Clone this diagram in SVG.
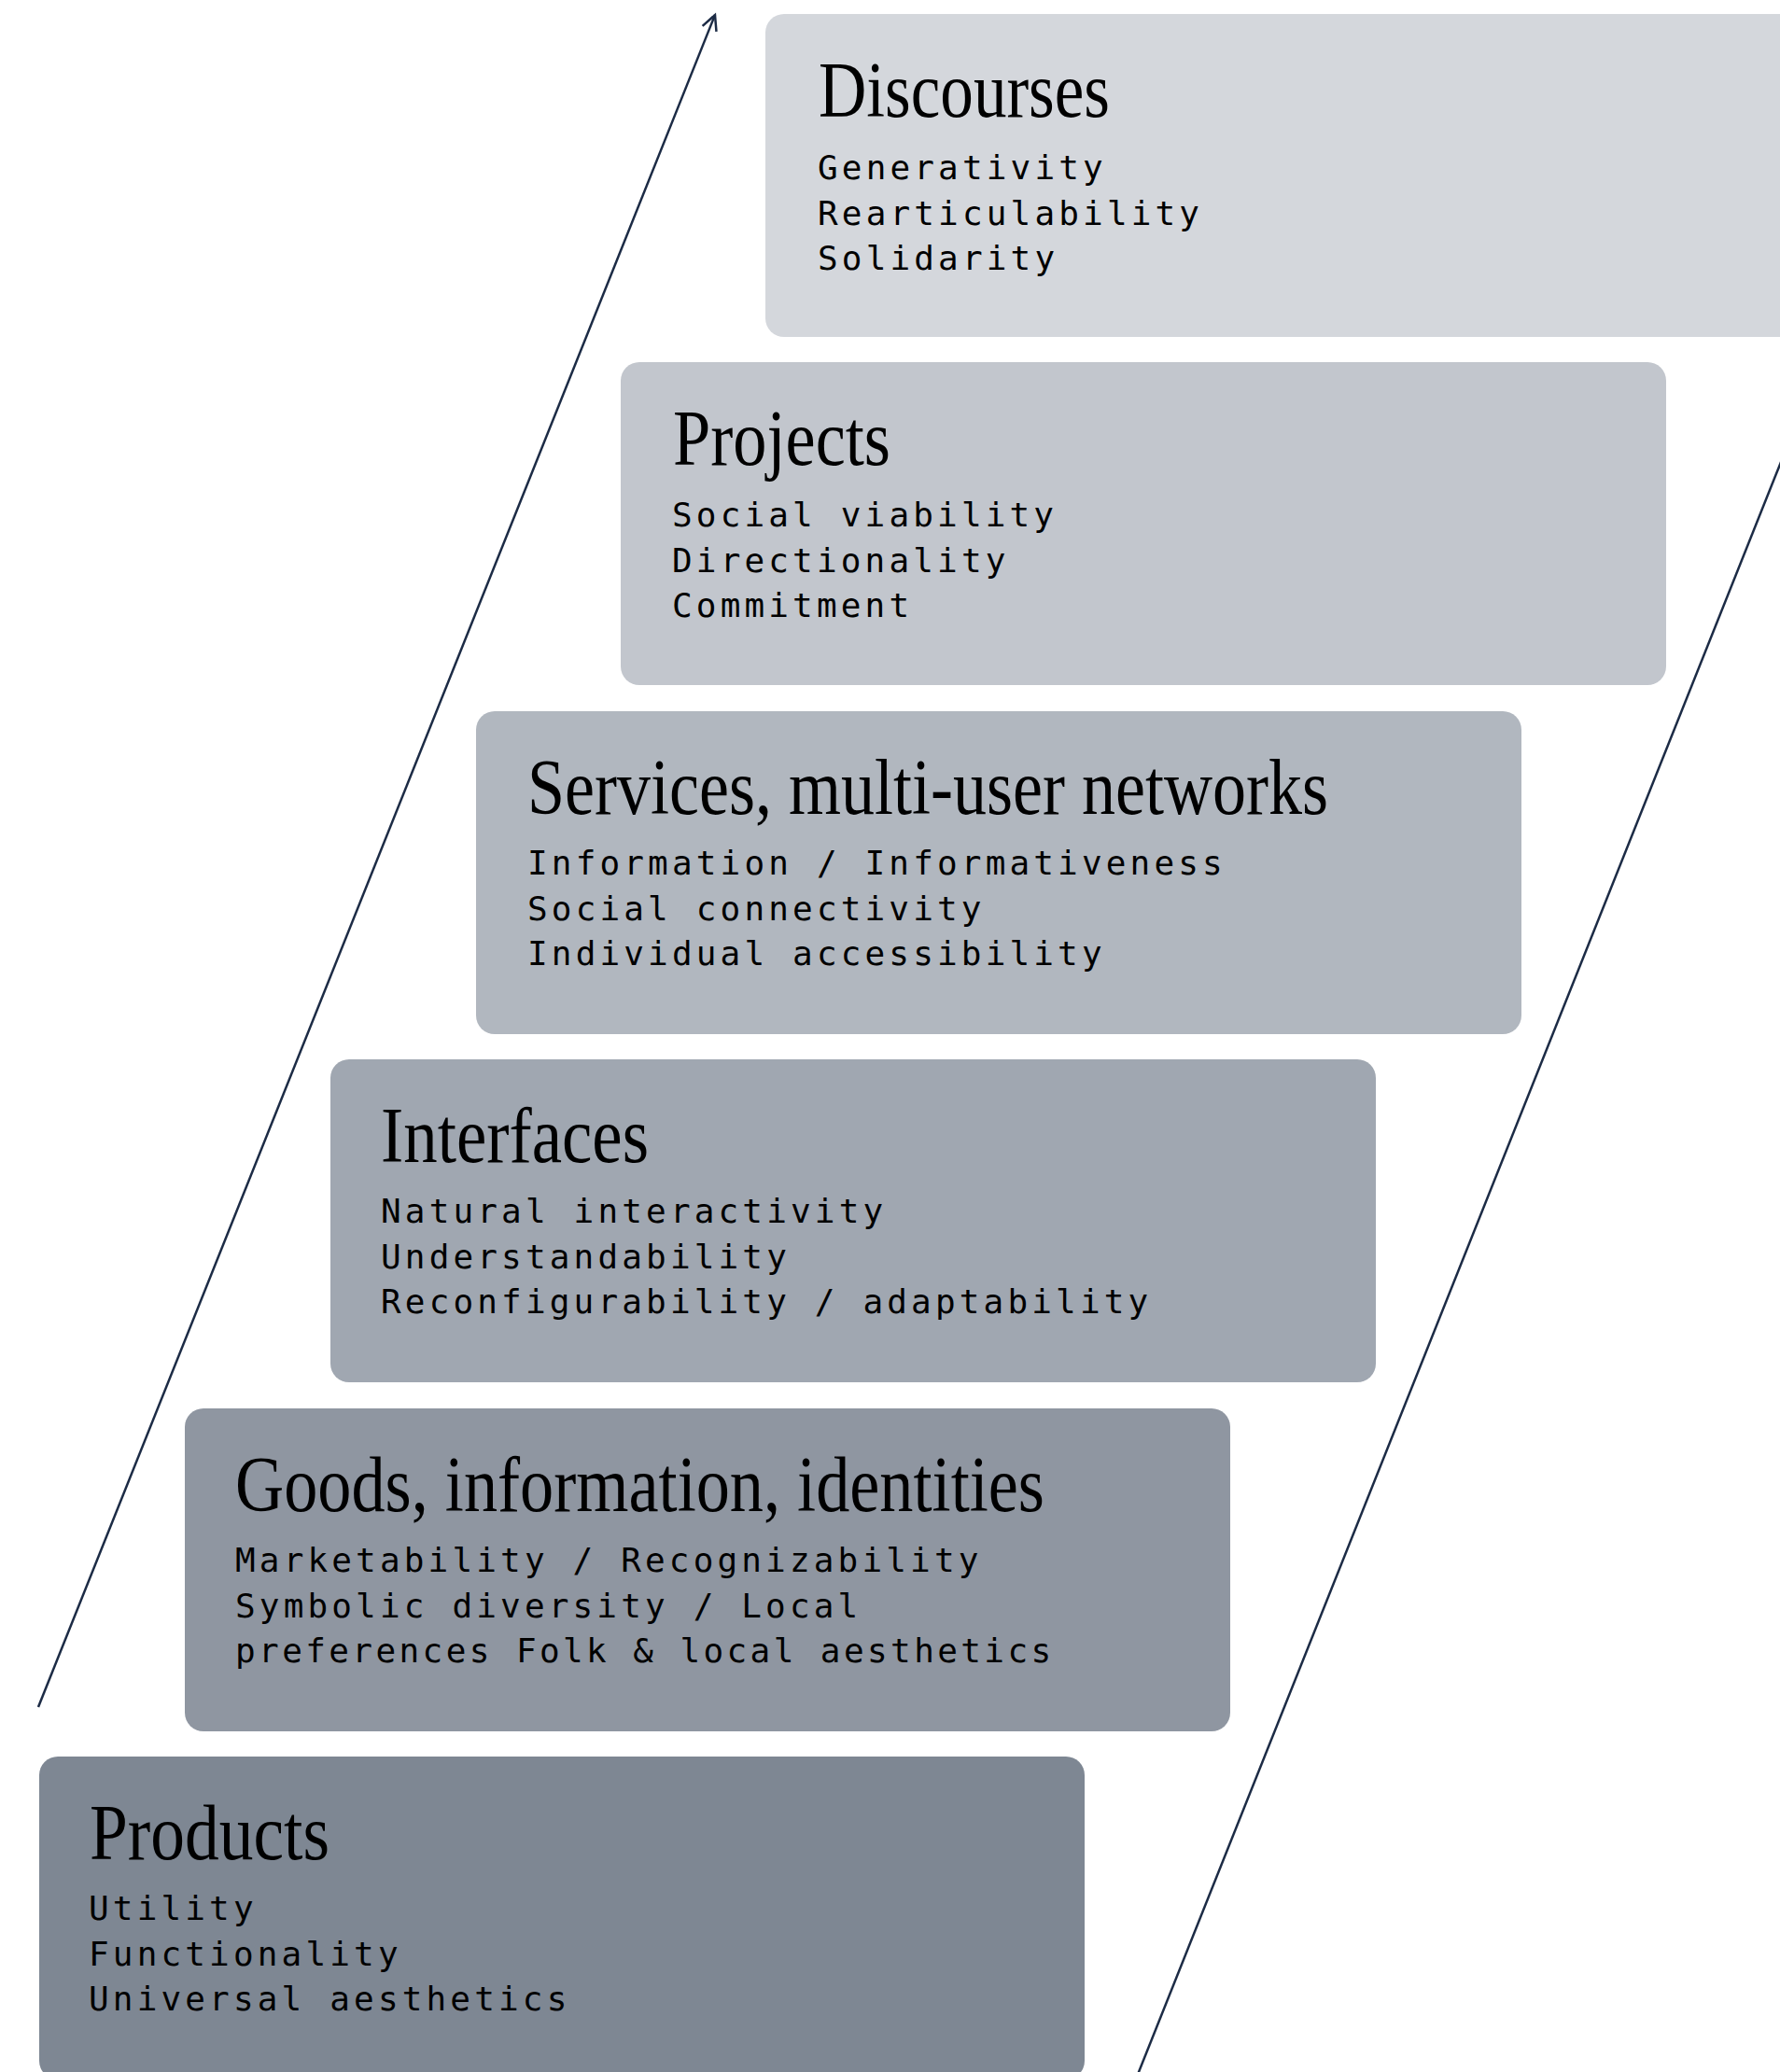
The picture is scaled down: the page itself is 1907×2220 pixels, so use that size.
<svg xmlns="http://www.w3.org/2000/svg" width="1907" height="2220" viewBox="0 0 1907 2220">
<defs>
<style>
.box{stroke:none}
.title{font-family:"Liberation Serif","Times New Roman",serif;font-size:84px;fill:#000}
.mono{font-family:"DejaVu Sans Mono","Liberation Mono",monospace;font-size:36px;letter-spacing:4.15px;fill:#000}
.conn{fill:none;stroke:#1c2b45;stroke-width:2.5}
</style>
<marker id="open" markerUnits="userSpaceOnUse" markerWidth="30" markerHeight="30" refX="0" refY="0" viewBox="-20 -15 30 30" orient="auto">
<path d="M -16,-8 L 0,0 L -16,8" fill="none" stroke="#1c2b45" stroke-width="2.5"/>
</marker>
</defs>
<rect width="1907" height="2220" fill="#ffffff"/>
<g id="connectors">
<line class="conn" x1="41" y1="1829" x2="766" y2="16" marker-end="url(#open)"/>
<line class="conn" x1="1218" y1="2225" x2="1910" y2="490"/>
</g>
<g id="discourses">
<rect class="box" x="820" y="15" width="1120" height="346" rx="20" fill="#d4d7dc"/>
<text class="title" x="877" y="125" textLength="312" lengthAdjust="spacingAndGlyphs">Discourses</text>
<text class="mono" x="876" y="192">Generativity</text>
<text class="mono" x="876" y="240.5">Rearticulability</text>
<text class="mono" x="876" y="289">Solidarity</text>
</g>
<g id="projects">
<rect class="box" x="665" y="388" width="1120" height="346" rx="20" fill="#c2c6cd"/>
<text class="title" x="721" y="498" textLength="233" lengthAdjust="spacingAndGlyphs">Projects</text>
<text class="mono" x="720" y="564">Social viability</text>
<text class="mono" x="720" y="612.5">Directionality</text>
<text class="mono" x="720" y="661">Commitment</text>
</g>
<g id="services">
<rect class="box" x="510" y="762" width="1120" height="346" rx="20" fill="#b1b7bf"/>
<text class="title" x="565" y="872" textLength="858" lengthAdjust="spacingAndGlyphs">Services, multi-user networks</text>
<text class="mono" x="565" y="937">Information / Informativeness</text>
<text class="mono" x="565" y="985.5">Social connectivity</text>
<text class="mono" x="565" y="1034">Individual accessibility</text>
</g>
<g id="interfaces">
<rect class="box" x="354" y="1135" width="1120" height="346" rx="20" fill="#a0a7b1"/>
<text class="title" x="408" y="1245" textLength="287" lengthAdjust="spacingAndGlyphs">Interfaces</text>
<text class="mono" x="408" y="1310">Natural interactivity</text>
<text class="mono" x="408" y="1358.5">Understandability</text>
<text class="mono" x="408" y="1407">Reconfigurability / adaptability</text>
</g>
<g id="goods">
<rect class="box" x="198" y="1509" width="1120" height="346" rx="20" fill="#8f96a1"/>
<text class="title" x="252" y="1619" textLength="867" lengthAdjust="spacingAndGlyphs">Goods, information, identities</text>
<text class="mono" x="252" y="1684">Marketability / Recognizability</text>
<text class="mono" x="252" y="1732.5">Symbolic diversity / Local</text>
<text class="mono" x="252" y="1781" style="letter-spacing:3.4px">preferences Folk &amp; local aesthetics</text>
</g>
<g id="products">
<rect class="box" x="42" y="1882" width="1120" height="346" rx="20" fill="#7e8793"/>
<text class="title" x="96" y="1992" textLength="257" lengthAdjust="spacingAndGlyphs">Products</text>
<text class="mono" x="95" y="2057">Utility</text>
<text class="mono" x="95" y="2105.5">Functionality</text>
<text class="mono" x="95" y="2154">Universal aesthetics</text>
</g>
</svg>
